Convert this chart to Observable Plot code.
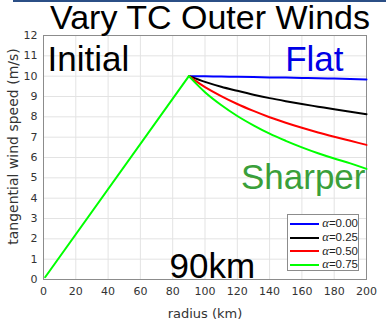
<!DOCTYPE html>
<html>
<head>
<meta charset="utf-8">
<script src="https://cdn.jsdelivr.net/npm/d3@7"></script>
<script src="https://cdn.jsdelivr.net/npm/@observablehq/plot@0.6"></script>
<style>
  html, body { margin: 0; padding: 0; background: white; }
  #wrap { position: relative; width: 386px; height: 325px; overflow: hidden; background: white; }
  #topbar { position: absolute; left: 13px; top: 0; width: 373px; height: 2px; background: #2b4f86; }
  #legend { position: absolute; left: 287px; top: 214px; width: 72px; height: 57px;
            border: 1px solid #8c8c8c; background: white; box-sizing: border-box;
            font-family: "Liberation Sans", Arial, sans-serif; font-size: 11.5px; color: #222; padding-top: 2px; }
  #legend .row { display: flex; align-items: center; height: 13.7px; }
  #legend .sw { width: 30px; height: 2px; margin-left: 2px; margin-right: 3px; }
  #legend .a { font-family: "Liberation Serif", serif; font-style: italic; font-size: 12.5px; }
</style>
</head>
<body>
<div id="wrap"></div>
<script>
// Shared core of every profile: speed rises linearly out to the 90 km radius of max wind
const innerRadius = [1, 90];
const innerSpeed = [0.11, 10];

// Radii (km) for the outer part of the profile
const outerRadius = [90, 100, 110, 120, 130, 140, 150, 160, 170, 180, 190, 200];

// Tangential wind speed (m/s) in the outer part, one list per decay exponent
const alphaLabels = ["0.00", "0.25", "0.50", "0.75"];
const speed000 = [10.0, 9.99, 9.98, 9.97, 9.96, 9.94, 9.93, 9.91, 9.90, 9.88, 9.86, 9.84];
const speed025 = [10.0, 9.72, 9.48, 9.28, 9.09, 8.92, 8.77, 8.63, 8.50, 8.37, 8.25, 8.13];
const speed050 = [10.0, 9.46, 9.02, 8.63, 8.29, 7.98, 7.71, 7.46, 7.23, 7.02, 6.82, 6.62];
const speed075 = [10.0, 9.21, 8.58, 8.04, 7.58, 7.17, 6.82, 6.50, 6.21, 5.95, 5.71, 5.44];
const seriesColors = ["#0000ff", "#000000", "#ff0000", "#00ff00"];

const xTicks = [0, 20, 40, 60, 80, 100, 120, 140, 160, 180, 200];
const yTicks = [0, 1, 2, 3, 4, 5, 6, 7, 8, 9, 10, 11, 12];

const outerSpeeds = [speed000, speed025, speed050, speed075];

// Outer rows, one per point and exponent
const outerRows = [];
outerSpeeds.forEach((vals, k) => {
  outerRadius.forEach((r, i) => outerRows.push({alpha: alphaLabels[k], r, v: vals[i]}));
});
// The core is identical for all exponents; it is drawn once, in the colour of the topmost series
const innerRows = innerRadius.map((r, i) => ({alpha: alphaLabels[alphaLabels.length - 1], r, v: innerSpeed[i]}));

const big = {fontFamily: "Liberation Sans, Arial, sans-serif", fontSize: 35, lineAnchor: "bottom"};

const chart = Plot.plot({
  width: 386,
  height: 325,
  marginTop: 35,
  marginRight: 20,
  marginBottom: 46,
  marginLeft: 43,
  style: {fontFamily: "DejaVu Sans, sans-serif", fontSize: "11px", color: "#333", background: "white", overflow: "visible"},
  x: {domain: [0, 200]},
  y: {domain: [0, 12]},
  color: {domain: alphaLabels, range: seriesColors},
  marks: [
    Plot.gridX(xTicks, {stroke: "#e3e3e3", strokeOpacity: 1}),
    Plot.gridY(yTicks, {stroke: "#e3e3e3", strokeOpacity: 1}),
    Plot.axisX({ticks: xTicks, tickSize: 0, tickPadding: 8, label: null, tickFormat: d3.format("d")}),
    Plot.axisY({ticks: yTicks, tickSize: 0, tickPadding: 6, label: null, tickFormat: d3.format("d")}),
    Plot.frame({stroke: "#8c8c8c"}),
    Plot.line(outerRows, {x: "r", y: "v", z: "alpha", stroke: "alpha", strokeWidth: 2, curve: "monotone-x"}),
    Plot.line(innerRows, {x: "r", y: "v", stroke: "alpha", strokeWidth: 2}),
    // axis titles
    Plot.text(["radius (km)"], {frameAnchor: "bottom", dy: 38, lineAnchor: "bottom", fontSize: 13, fill: "#333"}),
    Plot.text(["tangential wind speed (m/s)"], {frameAnchor: "left", textAnchor: "middle", rotate: -90, dx: -26, dy: -11, lineAnchor: "bottom", fontSize: 14, fill: "#333"}),
    // title and annotations
    Plot.text(["Vary TC Outer Winds"], {...big, frameAnchor: "top", dx: 5, dy: -7, fontSize: 34, fill: "black"}),
    Plot.text(["Initial"], {...big, frameAnchor: "top-left", textAnchor: "start", dx: 4, dy: 35, fill: "black"}),
    Plot.text(["Flat"], {...big, frameAnchor: "top-right", textAnchor: "end", dx: -23, dy: 35, fill: "#0000e6"}),
    Plot.text(["Sharper"], {...big, frameAnchor: "top-right", textAnchor: "end", dx: -1, dy: 153, fill: "#3a9f3a"}),
    Plot.text(["90km"], {...big, frameAnchor: "bottom-left", textAnchor: "start", dx: 126, dy: -2, fill: "black"})
  ]
});

const wrap = document.getElementById("wrap");
wrap.appendChild(chart);

const bar = document.createElement("div");
bar.id = "topbar";
wrap.appendChild(bar);

// legend box listing the decay exponents
const legend = document.createElement("div");
legend.id = "legend";
alphaLabels.forEach((a, i) => {
  const row = document.createElement("div");
  row.className = "row";
  row.innerHTML = `<span class="sw" style="background:${seriesColors[i]}"></span><span><span class="a">α</span>=${a}</span>`;
  legend.appendChild(row);
});
wrap.appendChild(legend);
</script>
</body>
</html>
